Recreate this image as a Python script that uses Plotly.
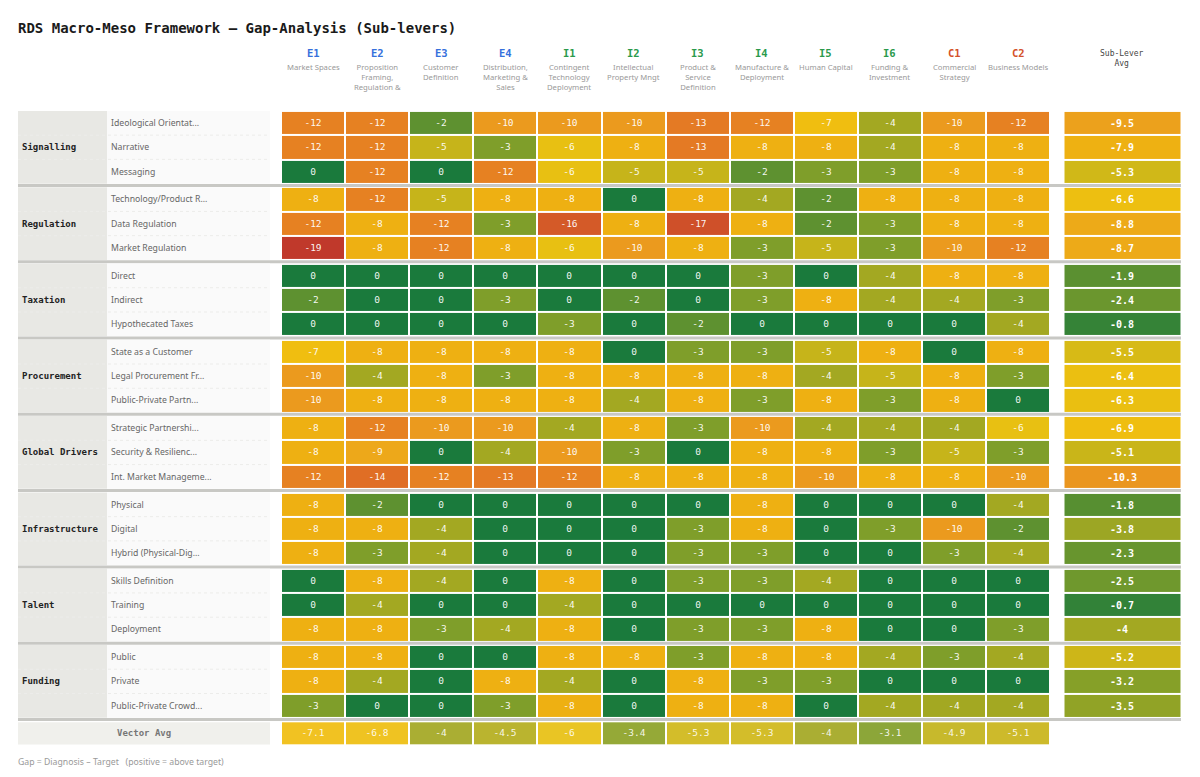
import plotly.graph_objects as go

# ---------------- data ----------------
codes = ["E1", "E2", "E3", "E4", "I1", "I2", "I3", "I4", "I5", "I6", "C1", "C2"]
code_family = ["E", "E", "E", "E", "I", "I", "I", "I", "I", "I", "C", "C"]
col_names = ["Market Spaces", "Proposition<br>Framing,<br>Regulation &", "Customer<br>Definition",
             "Distribution,<br>Marketing &<br>Sales", "Contingent<br>Technology<br>Deployment",
             "Intellectual<br>Property Mngt", "Product &<br>Service<br>Definition",
             "Manufacture &<br>Deployment", "Human Capital", "Funding &<br>Investment",
             "Commercial<br>Strategy", "Business Models"]

levers = ["Signalling", "Regulation", "Taxation", "Procurement", "Global Drivers",
          "Infrastructure", "Talent", "Funding"]

sub_levers = [
    ["Ideological Orientat...", "Narrative", "Messaging"],
    ["Technology/Product R...", "Data Regulation", "Market Regulation"],
    ["Direct", "Indirect", "Hypothecated Taxes"],
    ["State as a Customer", "Legal Procurement Fr...", "Public-Private Partn..."],
    ["Strategic Partnershi...", "Security & Resilienc...", "Int. Market Manageme..."],
    ["Physical", "Digital", "Hybrid (Physical-Dig..."],
    ["Skills Definition", "Training", "Deployment"],
    ["Public", "Private", "Public-Private Crowd..."],
]

gaps = [
    [[-12, -12, -2, -10, -10, -10, -13, -12, -7, -4, -10, -12],
     [-12, -12, -5, -3, -6, -8, -13, -8, -8, -4, -8, -8],
     [0, -12, 0, -12, -6, -5, -5, -2, -3, -3, -8, -8]],
    [[-8, -12, -5, -8, -8, 0, -8, -4, -2, -8, -8, -8],
     [-12, -8, -12, -3, -16, -8, -17, -8, -2, -3, -8, -8],
     [-19, -8, -12, -8, -6, -10, -8, -3, -5, -3, -10, -12]],
    [[0, 0, 0, 0, 0, 0, 0, -3, 0, -4, -8, -8],
     [-2, 0, 0, -3, 0, -2, 0, -3, -8, -4, -4, -3],
     [0, 0, 0, 0, -3, 0, -2, 0, 0, 0, 0, -4]],
    [[-7, -8, -8, -8, -8, 0, -3, -3, -5, -8, 0, -8],
     [-10, -4, -8, -3, -8, -8, -8, -8, -4, -5, -8, -3],
     [-10, -8, -8, -8, -8, -4, -8, -3, -8, -3, -8, 0]],
    [[-8, -12, -10, -10, -4, -8, -3, -10, -4, -4, -4, -6],
     [-8, -9, 0, -4, -10, -3, 0, -8, -8, -3, -5, -3],
     [-12, -14, -12, -13, -12, -8, -8, -8, -10, -8, -8, -10]],
    [[-8, -2, 0, 0, 0, 0, 0, -8, 0, 0, 0, -4],
     [-8, -8, -4, 0, 0, 0, -3, -8, 0, -3, -10, -2],
     [-8, -3, -4, 0, 0, 0, -3, -3, 0, 0, -3, -4]],
    [[0, -8, -4, 0, -8, 0, -3, -3, -4, 0, 0, 0],
     [0, -4, 0, 0, -4, 0, 0, 0, 0, 0, 0, 0],
     [-8, -8, -3, -4, -8, 0, -3, -3, -8, 0, 0, -3]],
    [[-8, -8, 0, 0, -8, -8, -3, -8, -8, -4, -3, -4],
     [-8, -4, 0, -8, -4, 0, -8, -3, -3, 0, 0, 0],
     [-3, 0, 0, -3, -8, 0, -8, -8, 0, -4, -4, -4]],
]

sub_lever_avg = [
    [-9.5, -7.9, -5.3],
    [-6.6, -8.8, -8.7],
    [-1.9, -2.4, -0.8],
    [-5.5, -6.4, -6.3],
    [-6.9, -5.1, -10.3],
    [-1.8, -3.8, -2.3],
    [-2.5, -0.7, -4],
    [-5.2, -3.2, -3.5],
]

vector_avg = [-7.1, -6.8, -4, -4.5, -6, -3.4, -5.3, -5.3, -4, -3.1, -4.9, -5.1]

# ---------------- style / layout constants ----------------
W, H = 1200, 777
COL_PX0, COL_PITCH = 313.0, 64.1      # pixel centre of first column, column pitch
ROW_PX0, ROW_PITCH = 123.0, 24.25     # pixel centre of first row, row pitch
GROUP_PITCH = 76.3 / ROW_PITCH        # group pitch in row units
AVG_X0_PX, AVG_X1_PX = 1063.5, 1181.0
ZMIN, ZMAX = -20, 0
PAD = 2  # annotation inner padding in px

MONO = "DejaVu Sans Mono"
SANS = "Noto Sans"
family_color = {"E": "#3570dc", "I": "#2a9a4c", "C": "#d4522a"}

color_stops = [(-20, "#b53026"), (-19, "#c0392b"), (-17, "#cf5029"), (-16, "#d45a28"),
               (-14, "#e06e25"), (-13, "#e47a24"), (-12, "#e68122"), (-10, "#eb9a1e"),
               (-9, "#eda81a"), (-8, "#eeb012"), (-7, "#f0be10"), (-6, "#e8c012"),
               (-5, "#c6b41a"), (-4, "#a3a822"), (-3, "#7f9e2a"), (-2, "#5e9130"),
               (-1, "#3c8536"), (0, "#1a7a3c")]
colorscale = [[(v - ZMIN) / (ZMAX - ZMIN), c] for v, c in color_stops]


def xu(px):
    return (px - COL_PX0) / COL_PITCH


def yu(px):
    return (px - ROW_PX0) / ROW_PITCH


def fmt(v):
    return f"{v:g}"


n_groups = len(levers)

# ---------------- build brick grids ----------------
y_edges = [-0.5]
z_main, t_main, z_avg, t_avg = [], [], [], []
for g in range(n_groups):
    base = g * GROUP_PITCH
    if g > 0:
        y_edges.append(base - 0.5)
        z_main.append([None] * len(codes))
        t_main.append([""] * len(codes))
        z_avg.append([None])
        t_avg.append([""])
    for j in range(len(sub_levers[g])):
        y_edges.append(base + j + 0.5)
        z_main.append(gaps[g][j])
        t_main.append([fmt(v) for v in gaps[g][j]])
        z_avg.append([sub_lever_avg[g][j]])
        t_avg.append([fmt(sub_lever_avg[g][j])])

vec_y = n_groups * GROUP_PITCH

fig = go.Figure()

fig.add_trace(go.Heatmap(
    x=list(range(len(codes))), y=y_edges, z=z_main, text=t_main,
    texttemplate="%{text}", textfont=dict(family=MONO, size=9.5, color="rgba(255,255,255,0.95)"),
    colorscale=colorscale, zmin=ZMIN, zmax=ZMAX, showscale=False,
    xgap=2, ygap=2, hoverinfo="skip"))

fig.add_trace(go.Heatmap(
    x=[xu(AVG_X0_PX), xu(AVG_X1_PX)], y=y_edges, z=z_avg, text=t_avg,
    texttemplate="%{text}", textfont=dict(family=MONO, size=10, color="white", weight="bold"),
    colorscale=colorscale, zmin=ZMIN, zmax=ZMAX, showscale=False,
    xgap=2, ygap=2, hoverinfo="skip"))

fig.add_trace(go.Heatmap(
    x=list(range(len(codes))), y=[vec_y - 0.5, vec_y + 0.5], z=[vector_avg],
    text=[[fmt(v) for v in vector_avg]],
    texttemplate="%{text}", textfont=dict(family=MONO, size=9.5, color="rgba(255,255,255,0.9)"),
    colorscale=colorscale, zmin=ZMIN, zmax=ZMAX, showscale=False,
    xgap=2, ygap=2, opacity=0.92, hoverinfo="skip"))

shapes = []
annotations = []

# label panels
for g in range(n_groups):
    base = g * GROUP_PITCH
    shapes.append(dict(type="rect", xref="paper", yref="y", x0=18 / W, x1=107 / W,
                       y0=base - 0.5, y1=base + 2.5, fillcolor="#e8e8e4", line_width=0, layer="below"))
    shapes.append(dict(type="rect", xref="paper", yref="y", x0=107 / W, x1=270 / W,
                       y0=base - 0.5, y1=base + 2.5, fillcolor="#fafafa", line_width=0, layer="below"))
    for j in (1, 2):
        shapes.append(dict(type="line", xref="paper", yref="y", x0=18 / W, x1=270 / W,
                           y0=base + j - 0.5, y1=base + j - 0.5,
                           line=dict(color="#ececea", width=1, dash="dot"), layer="below"))
    annotations.append(dict(xref="paper", yref="y", x=(22 - PAD) / W, y=base + 1, text=f"<b>{levers[g]}</b>",
                            showarrow=False, xanchor="left", yanchor="middle",
                            font=dict(family=MONO, size=9, color="#222")))
    for j, name in enumerate(sub_levers[g]):
        annotations.append(dict(xref="paper", yref="y", x=(111 - PAD) / W, y=base + j, text=name,
                                showarrow=False, xanchor="left", yanchor="middle",
                                font=dict(family=SANS, size=8.7, color="#666")))
    # separator bar after each group
    sep_y = base + 2.5 + (GROUP_PITCH - 3) / 2
    shapes.append(dict(type="line", xref="paper", yref="y", x0=18 / W, x1=1181 / W,
                       y0=sep_y, y1=sep_y, line=dict(color="#c8c8c4", width=3), layer="below"))

# vector avg label box
shapes.append(dict(type="rect", xref="paper", yref="y", x0=18 / W, x1=270 / W,
                   y0=vec_y - 0.5 + 0.04, y1=vec_y + 0.5 - 0.04, fillcolor="#f0f0ec", line_width=0,
                   layer="below"))
annotations.append(dict(xref="paper", yref="y", x=144 / W, y=vec_y, text="<b>Vector Avg</b>",
                        showarrow=False, xanchor="center", yanchor="middle",
                        font=dict(family=MONO, size=9, color="#777")))

# column headers
for i, (c, fam, nm) in enumerate(zip(codes, code_family, col_names)):
    annotations.append(dict(xref="x", yref="y", x=i, y=yu(53), text=f"<b>{c}</b>", showarrow=False,
                            xanchor="center", yanchor="middle",
                            font=dict(family=MONO, size=10.5, color=family_color[fam])))
    annotations.append(dict(xref="x", yref="y", x=i, y=yu(60), text=nm, showarrow=False,
                            xanchor="center", yanchor="top", align="center",
                            font=dict(family=SANS, size=7.7, color="#999")))

annotations.append(dict(xref="x", yref="y", x=(xu(AVG_X0_PX) + xu(AVG_X1_PX)) / 2, y=yu(46.5),
                        text="Sub-Lever<br>Avg", showarrow=False, xanchor="center", yanchor="top",
                        align="center", font=dict(family=MONO, size=8, color="#444")))

# title & footer
annotations.append(dict(xref="paper", yref="paper", x=(18 - PAD) / W, y=1 - 28 / H,
                        text="<b>RDS Macro-Meso Framework \u2014 Gap-Analysis (Sub-levers)</b>",
                        showarrow=False, xanchor="left", yanchor="middle",
                        font=dict(family=MONO, size=14, color="#1a1a1a")))
annotations.append(dict(xref="paper", yref="paper", x=(18 - PAD) / W, y=1 - 762 / H,
                        text="Gap = Diagnosis \u2013 Target\u00a0\u00a0\u00a0(positive = above target)",
                        showarrow=False, xanchor="left", yanchor="middle",
                        font=dict(family=SANS, size=8.7, color="#999")))

fig.update_layout(
    width=W, height=H, margin=dict(l=0, r=0, t=0, b=0),
    paper_bgcolor="white", plot_bgcolor="white",
    xaxis=dict(range=[xu(0), xu(W)], visible=False, fixedrange=True),
    yaxis=dict(range=[yu(H), yu(0)], visible=False, fixedrange=True),
    shapes=shapes, annotations=annotations, showlegend=False,
)

fig.write_html("out.html")
